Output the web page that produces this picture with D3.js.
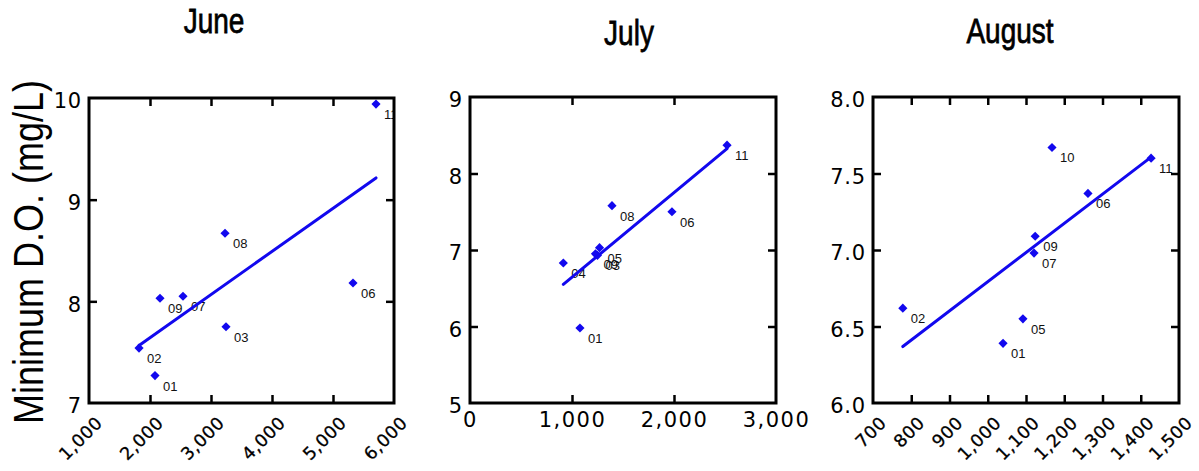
<!DOCTYPE html>
<html><head><meta charset="utf-8">
<script src="https://cdn.jsdelivr.net/npm/d3@7"></script>
<style>body{margin:0;background:#fff}svg{display:block}</style>
</head><body><svg id="c" width="1199" height="471"></svg>
<script>
// ---- data ----
const months = ["June", "July", "August"];
const juneLabels = ["01","02","03","07","06","08","09","11"];
const juneX = [2082, 1820, 3246, 2541, 5328, 3230, 2164, 5705];
const juneY = [7.27, 7.54, 7.75, 8.05, 8.18, 8.67, 8.03, 9.94];
const julyLabels = ["01","04","03","05","09","06","08","11"];
const julyX = [1078, 915, 1250, 1270, 1230, 1980, 1392, 2520];
const julyY = [5.98, 6.83, 6.93, 7.03, 6.95, 7.50, 7.58, 8.37];
const augustLabels = ["01","02","05","07","06","09","10","11"];
const augustX = [1040, 778, 1092, 1121, 1262, 1124, 1168, 1427];
const augustY = [6.39, 6.62, 6.55, 6.98, 7.37, 7.09, 7.67, 7.60];
const juneXTicks = [1000, 2000, 3000, 4000, 5000, 6000];
const juneYTicks = [7, 8, 9, 10];
const julyXTicks = [0, 1000, 2000, 3000];
const julyYTicks = [5, 6, 7, 8, 9];
const augustXTicks = [700, 800, 900, 1000, 1100, 1200, 1300, 1400, 1500];
const augustYTicks = [6.0, 6.5, 7.0, 7.5, 8.0];
const yAxisTitle = "Minimum D.O. (mg/L)";

// ---- layout ----
const svg = d3.select("#c");
const BLUE = "#1208ee";
const TICKFONT = "'DejaVu Sans', sans-serif";

const panels = [
  { title: months[0], xs: juneX, ys: juneY, labels: juneLabels, xt: juneXTicks, yt: juneYTicks,
    box: [89, 98, 394, 403], rotate: true, xfmt: d3.format(","), yfmt: d3.format("d"),
    titlePos: [214, 33] },
  { title: months[1], xs: julyX, ys: julyY, labels: julyLabels, xt: julyXTicks, yt: julyYTicks,
    box: [470, 97, 776, 403], rotate: false, xfmt: d3.format(","), yfmt: d3.format("d"),
    titlePos: [629, 45] },
  { title: months[2], xs: augustX, ys: augustY, labels: augustLabels, xt: augustXTicks, yt: augustYTicks,
    box: [873, 97, 1179, 403], rotate: true, xfmt: d3.format(","), yfmt: d3.format(".1f"),
    titlePos: [1010, 43] }
];

function fit(xs, ys) {
  const mx = d3.mean(xs), my = d3.mean(ys);
  let sxy = 0, sxx = 0;
  xs.forEach((x, i) => { sxy += (x - mx) * (ys[i] - my); sxx += (x - mx) * (x - mx); });
  const b = sxy / sxx;
  return { b, a: my - b * mx };
}

panels.forEach((p, pi) => {
  const [x0, y0, x1, y1] = p.box;
  const w = x1 - x0, h = y1 - y0;
  const x = d3.scaleLinear().domain(d3.extent(p.xt)).range([0, w]);
  const y = d3.scaleLinear().domain(d3.extent(p.yt)).range([h, 0]);
  const g = svg.append("g").attr("transform", `translate(${x0},${y0})`);

  const clipId = "clip" + pi;
  g.append("clipPath").attr("id", clipId).append("rect")
    .attr("x", 0).attr("y", 0).attr("width", w).attr("height", h);

  const innerX = p.xt.slice(1, -1), innerY = p.yt.slice(1, -1);
  const tickStyle = s => {
    s.select(".domain").remove();
    s.selectAll(".tick line").attr("stroke", "#000").attr("stroke-width", 2.5);
  };
  g.append("g").attr("transform", `translate(0,${h})`)
    .call(d3.axisBottom(x).tickValues(innerX).tickSize(-8).tickFormat("")).call(tickStyle);
  g.append("g")
    .call(d3.axisTop(x).tickValues(innerX).tickSize(-8).tickFormat("")).call(tickStyle);
  g.append("g")
    .call(d3.axisLeft(y).tickValues(innerY).tickSize(-8).tickFormat("")).call(tickStyle);
  g.append("g").attr("transform", `translate(${w},0)`)
    .call(d3.axisRight(y).tickValues(innerY).tickSize(-8).tickFormat("")).call(tickStyle);

  // x tick labels
  const xl = g.append("g").attr("transform", `translate(0,${h})`)
    .call(d3.axisBottom(x).tickValues(p.xt).tickSize(0).tickPadding(9).tickFormat(p.xfmt));
  xl.select(".domain").remove();
  xl.attr("font-family", TICKFONT);
  if (p.rotate) {
    xl.selectAll("text")
      .attr("font-size", 17.5).attr("letter-spacing", 0.5).attr("fill", "#000")
      .attr("stroke", "#000").attr("stroke-width", 0.3)
      .attr("x", 0).attr("y", 0).attr("dy", 0)
      .attr("text-anchor", "end")
      .attr("transform", "translate(14,21) rotate(-45)");
  } else {
    xl.selectAll("text").attr("font-size", 21).attr("letter-spacing", 1.5).attr("fill", "#000")
      .attr("dy", "0.71em");
  }
  // y tick labels
  const yl = g.append("g")
    .call(d3.axisLeft(y).tickValues(p.yt).tickSize(0).tickPadding(7).tickFormat(p.yfmt));
  yl.select(".domain").remove();
  yl.attr("font-family", TICKFONT);
  yl.selectAll("text").attr("font-size", 21).attr("letter-spacing", 0.8).attr("fill", "#000")
    .attr("dy", "0.46em");

  // point labels (clipped to plot area)
  g.append("g").attr("clip-path", `url(#${clipId})`)
    .selectAll("text").data(p.xs).join("text")
    .attr("x", (d) => x(d) + 8)
    .attr("y", (d, i) => y(p.ys[i]) + 15)
    .attr("font-family", "'Liberation Sans', Arial, sans-serif")
    .attr("font-size", 13)
    .attr("fill", "#111")
    .text((d, i) => p.labels[i]);

  // regression line
  const f = fit(p.xs, p.ys);
  const ext = d3.extent(p.xs);
  g.append("path")
    .attr("d", d3.line().x(d => x(d)).y(d => y(f.a + f.b * d))(ext))
    .attr("stroke", BLUE).attr("stroke-width", 3).attr("fill", "none")
    .attr("stroke-linecap", "round");

  // points
  g.append("g").selectAll("path").data(p.xs).join("path")
    .attr("transform", (d, i) => `translate(${x(d)},${y(p.ys[i])}) rotate(45)`)
    .attr("d", d3.symbol(d3.symbolSquare, 42)())
    .attr("fill", BLUE);

  // frame
  g.append("rect").attr("x", 0).attr("y", 0).attr("width", w).attr("height", h)
    .attr("fill", "none").attr("stroke", "#000").attr("stroke-width", 3);

  // title
  svg.append("text")
    .attr("transform", `translate(${p.titlePos[0]},${p.titlePos[1]}) scale(1,1.27)`)
    .attr("text-anchor", "middle")
    .attr("font-family", "'Liberation Sans', Arial, sans-serif")
    .attr("font-size", 28)
    .attr("fill", "#000")
    .attr("stroke", "#000").attr("stroke-width", 0.6)
    .text(p.title);
});

// y axis title
svg.append("text")
  .attr("transform", "translate(43,252) rotate(-90) scale(1,1.16)")
  .attr("text-anchor", "middle")
  .attr("font-family", "'Liberation Sans', Arial, sans-serif")
  .attr("font-size", 36)
  .attr("fill", "#000")
  .text(yAxisTitle);
</script>
</body></html>
